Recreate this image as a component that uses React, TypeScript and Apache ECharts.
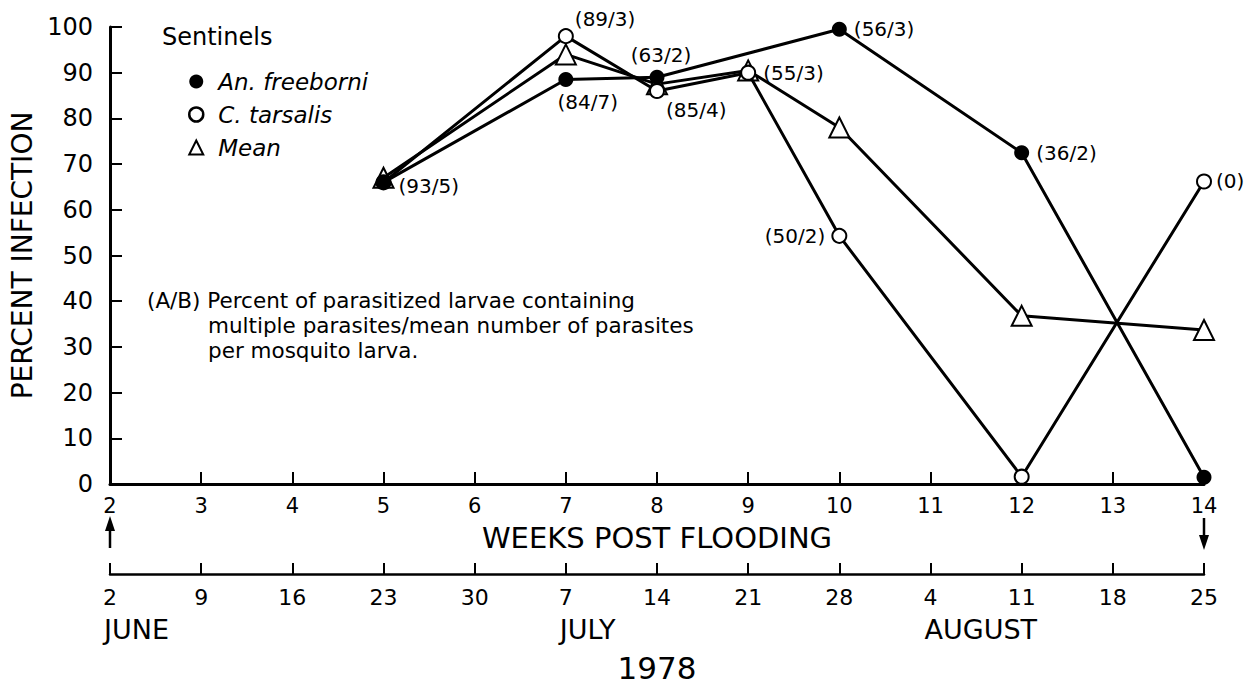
import React, { useEffect, useRef } from "react";
import * as echarts from "echarts";

// ---- data ----
const weekTicks = [2, 3, 4, 5, 6, 7, 8, 9, 10, 11, 12, 13, 14];
const dateLabels = ["2", "9", "16", "23", "30", "7", "14", "21", "28", "4", "11", "18", "25"];
const monthNames = ["JUNE", "JULY", "AUGUST"];
const monthStartWeeks = [2, 7, 11];
const yearLabel = "1978";

const freeborniWeeks = [5, 7, 8, 10, 12, 14];
const freeborniValues = [66, 88.5, 89, 99.5, 72.5, 1.5];
const freeborniLabels = ["", "(84/7)", "(63/2)", "(56/3)", "(36/2)", ""];

const tarsalisWeeks = [5, 7, 8, 9, 10, 12, 14];
const tarsalisValues = [66, 98, 86, 90, 54.3, 1.6, 66.2];
const tarsalisLabels = ["(93/5)", "(89/3)", "(85/4)", "(55/3)", "(50/2)", "", "(0)"];

const meanWeeks = [5, 7, 8, 9, 10, 12, 14];
const meanValues = [67, 94, 87.5, 90.5, 78, 36.8, 33.7];

const seriesNames = ["An. freeborni", "C. tarsalis", "Mean"];
const legendTitle = "Sentinels";
const noteLines = [
  "(A/B) Percent of parasitized larvae containing",
  "multiple parasites/mean number of parasites",
  "per mosquito larva.",
];

const FONT = "DejaVu Sans";

// label placement (style only)
const labelPlacement: Record<string, any> = {
  "(84/7)": { position: "bottom", offset: [22, 0] },
  "(63/2)": { position: "top", offset: [4, 0] },
  "(56/3)": { position: "right", offset: [2, 0] },
  "(36/2)": { position: "right", offset: [2, 0] },
  "(93/5)": { position: "right", offset: [2, 4] },
  "(89/3)": { position: "right", offset: [-4, -17] },
  "(85/4)": { position: "right", offset: [-4, 19] },
  "(55/3)": { position: "right", offset: [2, 0] },
  "(50/2)": { position: "left", offset: [-1, 0] },
  "(0)": { position: "right", offset: [-1, 0] },
};

function buildData(weeks: number[], values: number[], labels?: string[]) {
  return weeks.map((w, i) => {
    const lab = labels ? labels[i] : "";
    const item: any = { value: [w, values[i]] };
    if (lab) {
      const p = labelPlacement[lab] || { position: "right" };
      item.label = {
        show: true,
        formatter: lab,
        position: p.position,
        offset: p.offset,
        color: "#000",
        fontSize: 20,
        fontFamily: FONT,
      };
    }
    return item;
  });
}

export default function App() {
  const ref = useRef<HTMLDivElement>(null);

  useEffect(() => {
    if (!ref.current) return;
    const chart = echarts.init(ref.current, null, { renderer: "svg" });

    const option: any = {
      animation: false,
      backgroundColor: "#fff",
      textStyle: { fontFamily: FONT, color: "#000" },
      grid: { left: 110, right: 52, top: 27, bottom: 203, containLabel: false },
      legend: {
        orient: "vertical",
        left: 183,
        top: 65,
        itemWidth: 14,
        itemHeight: 14,
        itemGap: 10,
        selectedMode: false,
        textStyle: { fontFamily: FONT, fontSize: 23, fontStyle: "italic", color: "#000", padding: [0, 0, 0, 10] },
        data: [
          { name: seriesNames[0], icon: "circle", itemStyle: { color: "#000", borderWidth: 0 } },
          { name: seriesNames[1], icon: "circle", itemStyle: { color: "#fff", borderColor: "#000", borderWidth: 2.5 } },
          { name: seriesNames[2], icon: "triangle", itemStyle: { color: "#fff", borderColor: "#000", borderWidth: 2 } },
        ],
      },
      xAxis: [
        {
          type: "value",
          min: 2,
          max: 14,
          interval: 1,
          name: "WEEKS POST FLOODING",
          nameLocation: "middle",
          nameGap: 39,
          nameTextStyle: { fontFamily: FONT, fontSize: 29, color: "#000" },
          axisLine: { show: true, onZero: false, lineStyle: { color: "#000", width: 3 } },
          axisTick: { show: true, inside: true, length: 12, lineStyle: { color: "#000", width: 2 } },
          axisLabel: {
            show: true,
            margin: 11,
            fontFamily: FONT,
            fontSize: 21,
            color: "#000",
            formatter: (v: number) => (weekTicks.indexOf(v) >= 0 ? String(v) : ""),
          },
          splitLine: { show: false },
        },
        {
          type: "value",
          min: 2,
          max: 14,
          interval: 1,
          position: "bottom",
          offset: 90,
          axisLine: { show: true, onZero: false, lineStyle: { color: "#000", width: 2.5 } },
          axisTick: { show: true, inside: true, length: 11, lineStyle: { color: "#000", width: 2 } },
          axisLabel: {
            show: true,
            margin: 12,
            fontFamily: FONT,
            fontSize: 22,
            color: "#000",
            formatter: (v: number) => {
              const i = weekTicks.indexOf(v);
              return i >= 0 ? dateLabels[i] : "";
            },
          },
          splitLine: { show: false },
        },
      ],
      yAxis: {
        type: "value",
        min: 0,
        max: 100,
        interval: 10,
        name: "PERCENT INFECTION",
        nameLocation: "middle",
        nameRotate: 90,
        nameGap: 74,
        nameTextStyle: { fontFamily: FONT, fontSize: 28, color: "#000" },
        axisLine: { show: true, lineStyle: { color: "#000", width: 3 } },
        axisTick: { show: true, inside: true, length: 12, lineStyle: { color: "#000", width: 2 } },
        axisLabel: { margin: 17, fontFamily: FONT, fontSize: 24, color: "#000" },
        splitLine: { show: false },
      },
      series: [
        {
          name: seriesNames[0],
          type: "line",
          data: buildData(freeborniWeeks, freeborniValues, freeborniLabels),
          symbol: "circle",
          symbolSize: 15,
          itemStyle: { color: "#000" },
          lineStyle: { color: "#000", width: 3 },
          z: 4,
        },
        {
          name: seriesNames[1],
          type: "line",
          data: buildData(tarsalisWeeks, tarsalisValues, tarsalisLabels),
          symbol: "emptyCircle",
          symbolSize: 14,
          itemStyle: { color: "#000", borderWidth: 2.5 },
          lineStyle: { color: "#000", width: 3 },
          z: 3,
        },
        {
          name: seriesNames[2],
          type: "line",
          data: buildData(meanWeeks, meanValues),
          symbol: "emptyTriangle",
          symbolSize: 20,
          itemStyle: { color: "#000", borderWidth: 2.5 },
          lineStyle: { color: "#000", width: 3 },
          z: 2,
        },
      ],
    };

    chart.setOption(option);

    // annotations positioned through the axes
    const px = (w: number) => chart.convertToPixel({ xAxisIndex: 0 }, w) as number;
    const graphics: any[] = [];
    graphics.push({
      type: "text",
      x: 162,
      y: 37,
      style: { text: legendTitle, fontFamily: FONT, fontSize: 24, fill: "#000", textVerticalAlign: "middle" },
    });
    noteLines.forEach((t, i) => {
      graphics.push({
        type: "text",
        x: i === 0 ? 147 : 208,
        y: 300 + i * 25,
        style: { text: t, fontFamily: FONT, fontSize: 21.5, fill: "#000", textVerticalAlign: "middle" },
      });
    });
    monthNames.forEach((m, i) => {
      graphics.push({
        type: "text",
        x: px(monthStartWeeks[i]) - 6,
        y: 629,
        style: { text: m, fontFamily: FONT, fontSize: 27, fill: "#000", textVerticalAlign: "middle" },
      });
    });
    graphics.push({
      type: "text",
      x: (px(2) + px(14)) / 2,
      y: 668,
      style: { text: yearLabel, fontFamily: FONT, fontSize: 31, fill: "#000", textAlign: "center", textVerticalAlign: "middle" },
    });
    // arrows: up at first week, down at last week
    const ax = px(2);
    const bx = px(14);
    graphics.push({ type: "line", shape: { x1: ax, y1: 548, x2: ax, y2: 528 }, style: { stroke: "#000", lineWidth: 2.5 } });
    graphics.push({ type: "polygon", shape: { points: [[ax, 516], [ax - 5, 531], [ax + 5, 531]] }, style: { fill: "#000" } });
    graphics.push({ type: "line", shape: { x1: bx, y1: 518, x2: bx, y2: 538 }, style: { stroke: "#000", lineWidth: 2.5 } });
    graphics.push({ type: "polygon", shape: { points: [[bx, 550], [bx - 5, 535], [bx + 5, 535]] }, style: { fill: "#000" } });

    chart.setOption({ graphic: graphics });

    return () => chart.dispose();
  }, []);

  return (
    <div
      ref={ref}
      style={{ position: "fixed", left: 0, top: 0, width: 1256, height: 687, background: "#fff" }}
    />
  );
}
